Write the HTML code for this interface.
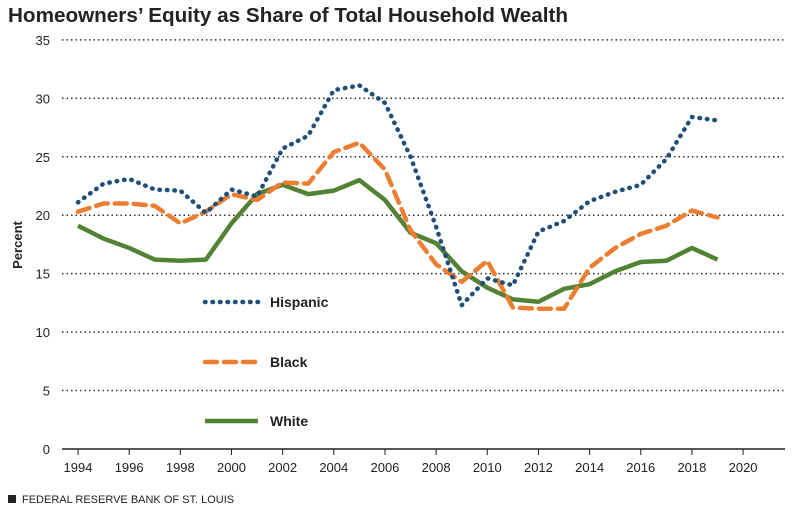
<!DOCTYPE html>
<html><head><meta charset="utf-8"><style>
body{margin:0;background:#fff;width:802px;height:513px;overflow:hidden;font-family:"Liberation Sans",sans-serif}
</style></head><body>
<svg id="c" width="802" height="513">
<text x="8" y="22" font-size="20" font-weight="bold" fill="#222" textLength="560" lengthAdjust="spacingAndGlyphs">Homeowners’ Equity as Share of Total Household Wealth</text>
<text x="0" y="0" transform="translate(22,245) rotate(-90)" text-anchor="middle" font-size="13" font-weight="bold" fill="#222">Percent</text>
<rect x="8" y="495" width="8" height="8" fill="#222"/>
<text x="22" y="503" font-size="11" fill="#222">FEDERAL RESERVE BANK OF ST. LOUIS</text>
<g id="grid"></g><g id="lines"></g><g id="legend"></g>
</svg>
<script>
const years=[1994,1995,1996,1997,1998,1999,2000,2001,2002,2003,2004,2005,2006,2007,2008,2009,2010,2011,2012,2013,2014,2015,2016,2017,2018,2019];
const hispanic=[21.1,22.7,23.1,22.2,22.1,20.2,22.2,21.6,25.7,26.8,30.7,31.1,29.6,25,19,12.3,14.6,14,18.6,19.5,21.2,22,22.6,24.8,28.4,28.1];
const black=[20.3,21,21,20.8,19.3,20.3,21.8,21.3,22.8,22.7,25.4,26.2,23.9,18.7,15.8,14.3,16.1,12.1,12,12,15.5,17.2,18.4,19.1,20.4,19.8];
const white=[19.1,18,17.2,16.2,16.1,16.2,19.3,21.8,22.6,21.8,22.1,23,21.3,18.5,17.6,15.2,13.8,12.8,12.6,13.7,14.1,15.2,16,16.1,17.2,16.2];
const yTicks=[0,5,10,15,20,25,30,35];
const xTicks=[1994,1996,1998,2000,2002,2004,2006,2008,2010,2012,2014,2016,2018,2020];
const NS="http://www.w3.org/2000/svg";
const X=v=>78+(v-1994)*25.58, Y=v=>449-v*11.69;
function mk(t,a,p){const e=document.createElementNS(NS,t);for(const k in a)e.setAttribute(k,a[k]);p.appendChild(e);return e;}
const g=document.getElementById('grid');
yTicks.forEach(v=>{
 if(v>0){const l=mk('line',{x1:62,x2:785,y1:Y(v),y2:Y(v),stroke:'#333','stroke-width':1.5,'stroke-dasharray':'1.5,3'},g);
 
 }
 const t=mk('text',{x:50,y:Y(v)+5,'text-anchor':'end','font-size':13,fill:'#222'},g);t.textContent=v;
 
 
});
const ax=mk('line',{x1:62,x2:785,y1:449,y2:449,stroke:'#222','stroke-width':1.5},g);


xTicks.forEach(v=>{
 mk('line',{x1:X(v),x2:X(v),y1:449,y2:455,stroke:'#222'},g);
 const t=mk('text',{x:X(v),y:472,'text-anchor':'middle','font-size':13,fill:'#222'},g);t.textContent=v;
 
 
});
const L=document.getElementById('lines');
function series(d,col,dash,name){
 const p=mk('polyline',{points:d.map((v,i)=>X(years[i])+','+Y(v)).join(' '),fill:'none',stroke:col,'stroke-width':4.5,'stroke-dasharray':dash,'stroke-linecap':dash?'round':'butt','stroke-linejoin':'round'},L);
 
 
}
series(white,'#548235','','white');
series(black,'#ED7D31','12,7','black');
series(hispanic,'#1F4E79','0.5,7','hispanic');
const lg=document.getElementById('legend');
[['Hispanic','#1F4E79','0.5,7',302],['Black','#ED7D31','12,7',362],['White','#548235','',421]].forEach(([n,c,d,y])=>{
 const l=mk('line',{x1:205,x2:258,y1:y,y2:y,stroke:c,'stroke-width':4.5,'stroke-dasharray':d,'stroke-linecap':d?'round':'butt'},lg);
 
 
 const t=mk('text',{x:270,y:y+5,'font-size':14,'font-weight':'bold',fill:'#222'},lg);t.textContent=n;
 
 
});
</script>
</body></html>
